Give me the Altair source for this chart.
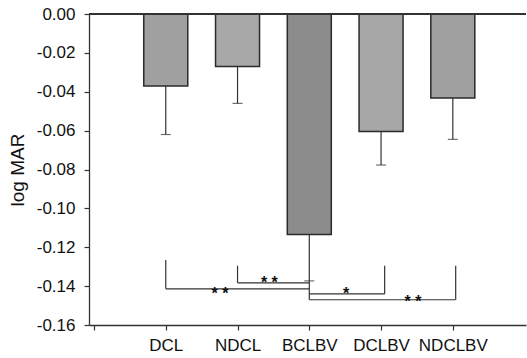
import altair as alt
import pandas as pd

# ---- data ----
categories = ["DCL", "NDCL", "BCLBV", "DCLBV", "NDCLBV"]
positions = [1, 2, 3, 4, 5]
means = [-0.037, -0.027, -0.1135, -0.0605, -0.0432]
lower_err = [-0.062, -0.046, -0.1373, -0.0777, -0.0645]
y_min, y_max = -0.16, 0.0

# significance brackets (segments)
seg_x = [1, 1, 2, 2, 3, 3, 4.05, 3, 5.04]
seg_x2 = [1, 3, 2, 3, 3, 4.05, 4.05, 5.04, 5.04]
seg_y = [-0.1265, -0.1414, -0.1295, -0.1383, -0.1373, -0.144, -0.1295, -0.147, -0.1295]
seg_y2 = [-0.1414, -0.1414, -0.1383, -0.1383, -0.147, -0.144, -0.144, -0.147, -0.147]

star_text = ["* *", "* *", "*", "* *"]
star_x = [1.756, 2.444, 3.513, 4.445]
star_y = [-0.142, -0.1362, -0.142, -0.146]

# ---- styles ----
BAR_FILLS = ["#a0a0a0", "#a8a8a8", "#8c8c8c", "#a6a6a6", "#a0a0a0"]
LINE = "#333333"
FONT = "Liberation Sans"

bars_df = pd.DataFrame({"cat": categories, "pos": positions, "mean": means, "lower": lower_err})
seg_df = pd.DataFrame({"x": seg_x, "x2": seg_x2, "y": seg_y, "y2": seg_y2})
star_df = pd.DataFrame({"t": star_text, "x": star_x, "y": star_y})

label_expr = "['', " + ", ".join(f"'{c}'" for c in categories) + "][datum.value]"

xscale = alt.Scale(domain=[0, 5.95], nice=False, zero=False)
yscale = alt.Scale(domain=[y_min, y_max], nice=False)

x_enc = alt.X("pos:Q", scale=xscale, axis=alt.Axis(
    values=[0, 1, 2, 3, 4, 5], labelExpr=label_expr, title=None, grid=False,
    labelFlush=False, labelOverlap=False, labelFontSize=17, labelFont=FONT,
    labelColor="#111111", tickSize=5, tickColor=LINE, domainColor=LINE,
    domainWidth=1.3, tickWidth=1.2, labelPadding=7))
y_enc = alt.Y("mean:Q", scale=yscale, axis=alt.Axis(
    tickCount=8,
    labelExpr="(datum.value < -0.0001 ? '-' : '') + format(abs(datum.value), '.2f')",
    title="log MAR", titleFont=FONT, titleFontSize=19, titleFontWeight="normal",
    titleColor="#111111", titlePadding=9, grid=False, labelFontSize=17,
    labelFont=FONT, labelColor="#111111", tickSize=5, tickColor=LINE,
    labelOverlap=False, labelFlush=False, labelBound=False,
    domainColor=LINE, domainWidth=1.3, tickWidth=1.2, labelPadding=9))

bars = alt.Chart(bars_df).mark_bar(size=44, stroke="#2a2a2a", strokeWidth=1.5).encode(
    x=x_enc, y=y_enc,
    color=alt.Color("cat:N", scale=alt.Scale(domain=categories, range=BAR_FILLS), legend=None),
)

err = alt.Chart(bars_df).mark_rule(color=LINE, strokeWidth=1.2).encode(
    x=alt.X("pos:Q", scale=xscale), y=alt.Y("mean:Q", scale=yscale), y2="lower:Q")
caps = alt.Chart(bars_df).mark_tick(orient="horizontal", size=10, thickness=1.2, color=LINE).encode(
    x=alt.X("pos:Q", scale=xscale), y=alt.Y("lower:Q", scale=yscale))

brackets = alt.Chart(seg_df).mark_rule(color=LINE, strokeWidth=1.2).encode(
    x=alt.X("x:Q", scale=xscale), x2="x2:Q", y=alt.Y("y:Q", scale=yscale), y2="y2:Q")

stars = alt.Chart(star_df).mark_text(font=FONT, fontSize=16, fontWeight="bold",
                                     baseline="alphabetic", dy=9, color="#111111").encode(
    x=alt.X("x:Q", scale=xscale), y=alt.Y("y:Q", scale=yscale), text="t:N")

zero = alt.Chart(bars_df).mark_rule(color=LINE, strokeWidth=1.3).encode(y=alt.datum(0))

chart = alt.layer(bars, err, caps, brackets, stars, zero).properties(
    width=437, height=311,
    padding={"left": 89, "top": 14, "right": 1, "bottom": 33},
    autosize=alt.AutoSizeParams(type="none"),
    background="white",
).configure_view(stroke=None).configure_axis(labelOverlap=False, labelSeparation=0)

chart.save("out.html", embed_options={"renderer": "svg", "actions": False})
